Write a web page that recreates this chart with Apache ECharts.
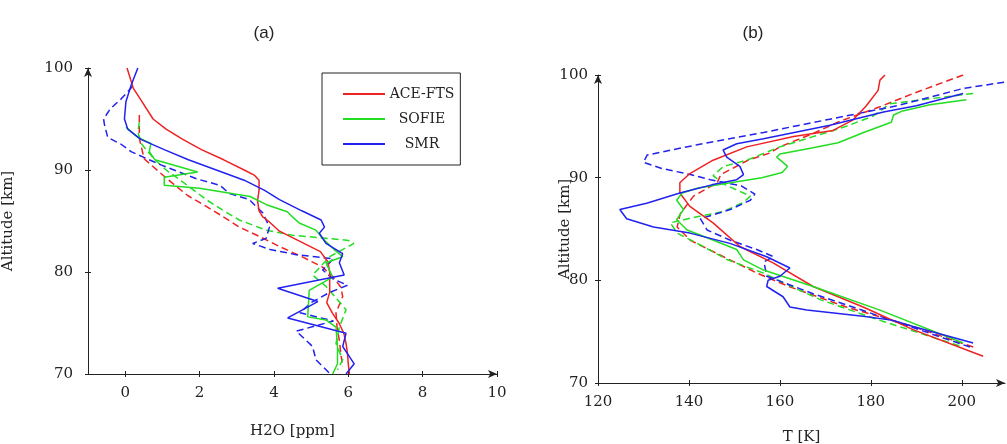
<!DOCTYPE html>
<html>
<head>
<meta charset="utf-8">
<script src="https://cdn.jsdelivr.net/npm/echarts@6/dist/echarts.min.js"></script>
<style>html,body{margin:0;padding:0;background:#fff}#c{width:1007px;height:444px}</style>
</head>
<body>
<div id="c"></div>
<script>
// ---------- Panel (a): H2O [ppm] vs altitude [km] ----------
const aAceAlt  = [100, 98, 97, 95, 94, 93, 92, 91, 90, 89.5, 89, 88, 87, 86, 85.4, 85, 84, 83, 82, 81, 80, 79, 78, 77, 76, 75, 74, 73, 72, 71, 70];
const aAceH2O  = [0.05, 0.22, 0.4, 0.75, 1.1, 1.55, 2.05, 2.65, 3.2, 3.47, 3.6, 3.6, 3.56, 3.6, 3.7, 3.85, 4.15, 4.7, 5.25, 5.45, 5.5, 5.5, 5.5, 5.42, 5.57, 5.75, 5.88, 5.94, 5.98, 6.0, 6.03];
const aSofAlt  = [94.2, 93.2, 92.6, 91.8, 91, 89.8, 89.3, 88.5, 88.2, 87.4, 86.6, 85.9, 85.4, 84.8, 84.1, 83.1, 82.2, 81.5, 80.9, 79.5, 78.2, 75.6, 75.3, 74.6, 72.7, 71, 70];
const aSofH2O  = [0.02, 0.34, 0.69, 0.65, 0.8, 1.95, 1.05, 1.05, 2.0, 3.36, 3.8, 4.36, 4.5, 4.68, 5.13, 5.36, 5.62, 5.85, 5.4, 5.58, 4.95, 4.91, 5.4, 5.67, 5.71, 5.71, 5.58];
const aSmrAlt  = [100, 98.3, 96.7, 95, 94, 93, 92, 91, 90, 89, 88, 87.1, 86, 85.1, 84.4, 83.8, 82.8, 82, 81.8, 80.9, 79.7, 78.4, 77.1, 75.5, 74, 72.7, 71, 70];
const aSmrH2O  = [0.34, 0.16, 0.02, -0.02, 0.07, 0.42, 1.05, 1.7, 2.45, 3.2, 3.75, 4.15, 4.75, 5.27, 5.36, 5.22, 5.4, 5.76, 5.85, 5.76, 5.89, 4.1, 5.18, 4.37, 5.94, 5.85, 6.16, 5.94];
const aAceDAlt = [95.4, 93.1, 91.1, 89.1, 87.5, 86.5, 85.5, 84.4, 83.5, 82.5, 81.5, 80.5, 79.5, 78.5, 77.6, 76, 74.5, 73.3, 72, 70.7];
const aAceDH2O = [0.38, 0.38, 0.51, 1.14, 1.68, 2.15, 2.6, 3.07, 3.6, 4.15, 4.75, 5.3, 5.6, 5.8, 5.85, 5.67, 5.7, 5.76, 5.8, 5.85];
const aSofDAlt = [94.7, 93.7, 92.5, 91, 90, 89.1, 88, 87.1, 86, 85.1, 84.1, 83.6, 83.3, 83.1, 82.8, 81.5, 79.7, 78.6, 76.3, 74.6, 73, 71.4, 70.4];
const aSofDH2O = [0.38, 0.34, 0.45, 0.8, 1.1, 1.45, 1.85, 2.18, 2.65, 3.07, 3.79, 4.5, 5.4, 6.0, 6.15, 5.5, 5.04, 5.4, 5.94, 5.76, 5.67, 5.85, 5.71];
const aSmrDAlt = [98.2, 97, 96, 95, 94.5, 93.2, 92.5, 91.8, 90.5, 89.1, 88.5, 87.7, 87.1, 86.5, 85.8, 84.4, 83.3, 82.8, 82.2, 81.7, 81.3, 80.2, 79.3, 78.7, 78, 77, 76, 75.2, 74.2, 72.7, 71.4, 70.1];
const aSmrDH2O = [0.2, -0.1, -0.4, -0.58, -0.56, -0.47, -0.1, 0.16, 0.96, 1.95, 2.55, 2.8, 3.34, 3.5, 3.7, 3.88, 3.79, 3.43, 3.9, 4.6, 5.6, 5.31, 5.6, 5.98, 5.5, 5.0, 4.7, 5.6, 4.6, 5.04, 5.13, 5.49];

// ---------- Panel (b): T [K] vs altitude [km] ----------
const bAceAlt  = [100, 99.5, 98.5, 97, 95.6, 94.6, 94, 93, 91.7, 90.4, 89.5, 88.5, 87.2, 85.6, 83.3, 81.7, 79.4, 77.4, 75.2, 72.6];
const bAceT    = [183.1, 182, 181.6, 179, 176, 171.7, 163, 152.7, 145.3, 140.2, 138, 138, 140.2, 145.3, 151.2, 158.5, 167.3, 178.3, 189.3, 204.7];
const bSofAlt  = [97.6, 97.1, 96.5, 96.1, 95.4, 94.4, 93.4, 92.9, 92.3, 92.0, 91.1, 90.5, 90.0, 89.6, 89.0, 88.5, 87.8, 86.9, 85.9, 84.9, 83.9, 83.0, 82.0, 81.0, 79.4, 77.1, 73.9];
const bSofT    = [201, 193, 187, 185, 184.5, 178.4, 172.8, 167, 160, 159.3, 161.7, 160.5, 156, 150.5, 142, 138.5, 137.3, 138.8, 137.3, 139.6, 145.4, 150.5, 152, 156.4, 167.3, 182, 200.3];
const bSmrAlt  = [98.2, 97, 96.4, 95.1, 93.8, 93.3, 92.7, 92.0, 91.1, 90.3, 89.8, 89.3, 88.5, 87.5, 86.9, 86.0, 85.2, 84.6, 83.6, 82.3, 81.2, 80.4, 80.0, 79.4, 78.4, 77.4, 77.1, 76.5, 76.1, 75.5, 73.9];
const bSmrT    = [200.3, 190, 182.8, 171, 156.4, 150.5, 147.5, 148.3, 151.2, 152, 150.5, 145, 138, 130.7, 124.8, 126.3, 132.2, 140.2, 149, 157.1, 162.2, 160, 157.4, 157.1, 160.7, 162.2, 165.9, 178.3, 184.9, 189.3, 202.5];
const bAceDAlt = [100, 98.2, 96.9, 95.5, 94.3, 93.0, 92.4, 91.7, 90.3, 89.5, 88.2, 86.5, 85.2, 83.9, 82.3, 80.7, 79.4, 77.4, 75.5, 73.5];
const bAceDT   = [200.3, 189.3, 182, 173.2, 167.3, 160, 157.8, 153, 147, 146.2, 141, 138.1, 137.4, 140.3, 147.6, 155, 162, 174.6, 189.3, 202.5];
const bSofDAlt = [98.2, 97.2, 96.0, 95.0, 94.0, 93.0, 91.7, 91.1, 90.2, 89.3, 88.8, 88.2, 87.6, 86.7, 86.2, 85.6, 84.6, 83.6, 82.0, 80.7, 79.1, 78.1, 76.1, 73.5];
const bSofDT   = [202.5, 184.2, 180.5, 174.6, 167.3, 160, 152.7, 147.6, 145.3, 148, 150.5, 153.5, 152, 147.6, 141.8, 135.9, 137.4, 141.8, 148.5, 156.4, 164, 169, 182, 200.3];
const bSmrDAlt = [99.3, 98.7, 97, 95.7, 94.4, 93.2, 92.5, 92.2, 91.5, 90.9, 90.3, 89.8, 89.2, 88.4, 87.8, 86.9, 86.0, 84.9, 83.9, 83.0, 82.3, 81.8, 80.4, 78.7, 76.5, 73.5];
const bSmrDT   = [209.3, 200.4, 185.7, 171, 156.4, 141.8, 134, 130.8, 130, 134, 140.3, 144.7, 151.5, 154.5, 153.5, 149.1, 142.5, 144, 149.1, 154.9, 158.6, 156.5, 157.1, 167.3, 182, 201.8];

// ---------- ticks / labels ----------
const altTicks = [70, 80, 90, 100];
const aXTicks = [0, 2, 4, 6, 8, 10];
const bXTicks = [120, 140, 160, 180, 200];
const names = ['ACE-FTS', 'SOFIE', 'SMR'];
const colors = ['#ee2222', '#22dd22', '#2222ee'];

const zip = (xs, ys) => xs.map((v, i) => [v, ys[i]]);

const serif = 'DejaVu Serif';
const axisCol = '#222';

function mainX(grid, min, max, ticks, name, nameGap) {
  return {
    type: 'value', gridIndex: grid, min, max, position: 'bottom',
    name, nameLocation: 'middle', nameGap, nameMoveOverlap: false,
    nameTextStyle: { fontFamily: serif, fontSize: 15, color: '#222' },
    axisLine: { show: true, onZero: false, lineStyle: { color: axisCol, width: 1 }, symbol: ['none', 'arrow'], symbolSize: [6, 9] },
    axisTick: { show: true, inside: false, length: 3, customValues: ticks, lineStyle: { color: axisCol } },
    axisLabel: { customValues: ticks, margin: 12, fontFamily: serif, fontSize: 15, color: '#222' },
    splitLine: { show: false }
  };
}
function helperX(grid, min, max, ticks) {
  return {
    type: 'value', gridIndex: grid, min, max, position: 'bottom',
    axisLine: { show: false, onZero: false },
    axisTick: { show: true, inside: true, length: 3, customValues: ticks, lineStyle: { color: axisCol } },
    axisLabel: { show: false, customValues: ticks },
    splitLine: { show: false }
  };
}
function mainY(grid, name, nameGap, margin) {
  return {
    type: 'value', gridIndex: grid, min: 70, max: 100, interval: 10, position: 'left',
    name, nameLocation: 'middle', nameGap, nameMoveOverlap: false,
    nameTextStyle: { fontFamily: serif, fontSize: 15, color: '#222' },
    axisLine: { show: true, onZero: false, lineStyle: { color: axisCol, width: 1 }, symbol: ['none', 'arrow'], symbolSize: [6, 9] },
    axisTick: { show: true, inside: false, length: 3, customValues: altTicks, lineStyle: { color: axisCol } },
    axisLabel: { customValues: altTicks, margin, fontFamily: serif, fontSize: 15, color: '#222' },
    splitLine: { show: false }
  };
}
function helperY(grid) {
  return {
    type: 'value', gridIndex: grid, min: 70, max: 100, interval: 10, position: 'left',
    axisLine: { show: false, onZero: false },
    axisTick: { show: true, inside: true, length: 3, customValues: altTicks, lineStyle: { color: axisCol } },
    axisLabel: { show: false, customValues: altTicks },
    splitLine: { show: false }
  };
}

function line(name, data, color, xi, yi, dashed) {
  return {
    type: 'line', name, data, xAxisIndex: xi, yAxisIndex: yi,
    symbol: 'none', smooth: false, animation: false, silent: true,
    lineStyle: { color, width: 1.5, type: dashed ? [7, 4] : 'solid' },
    itemStyle: { color }
  };
}

const chart = echarts.init(document.getElementById('c'), null, { renderer: 'canvas' });
chart.setOption({
  backgroundColor: '#fff',
  animation: false,
  title: [
    { text: '(a)', left: 259, top: 20, textAlign: 'center', textStyle: { fontFamily: 'Liberation Sans', fontSize: 17, fontWeight: 'normal', color: '#222' } },
    { text: '(b)', left: 748, top: 20, textAlign: 'center', textStyle: { fontFamily: 'Liberation Sans', fontSize: 17, fontWeight: 'normal', color: '#222' } }
  ],
  legend: {
    data: names, orient: 'vertical', left: 322, top: 73,
    width: 135, padding: [14, 6, 14, 20], itemGap: 11, itemWidth: 42, itemHeight: 14,
    borderColor: '#222', borderWidth: 1, backgroundColor: '#fff',
    itemStyle: { opacity: 0 },
    formatter: n => '{c|' + n + '}',
    textStyle: { fontFamily: serif, fontSize: 14, color: '#222',
      rich: { c: { width: 64, align: 'center', fontFamily: serif, fontSize: 14, color: '#222' } } },
    selectedMode: false
  },
  grid: [
    { left: 88, top: 68, width: 409, height: 306, outerBoundsMode: 'none' },
    { left: 598, top: 75, width: 407, height: 308, outerBoundsMode: 'none' }
  ],
  xAxis: [
    mainX(0, -1, 10, aXTicks, 'H2O [ppm]', 50),
    helperX(0, -1, 10, aXTicks),
    mainX(1, 120, 209.5, bXTicks, 'T [K]', 47),
    helperX(1, 120, 209.5, bXTicks)
  ],
  yAxis: [
    mainY(0, 'Altitude [km]', 72, 15),
    helperY(0),
    mainY(1, 'Altitude [km]', 25, 10),
    helperY(1)
  ],
  series: [
    line('ACE-FTS-d', zip(aAceDH2O, aAceDAlt), colors[0], 0, 0, true),
    line('SOFIE-d', zip(aSofDH2O, aSofDAlt), colors[1], 0, 0, true),
    line('SMR-d', zip(aSmrDH2O, aSmrDAlt), colors[2], 0, 0, true),
    line(names[0], zip(aAceH2O, aAceAlt), colors[0], 0, 0, false),
    line(names[1], zip(aSofH2O, aSofAlt), colors[1], 0, 0, false),
    line(names[2], zip(aSmrH2O, aSmrAlt), colors[2], 0, 0, false),
    line('ACE-FTS-db', zip(bAceDT, bAceDAlt), colors[0], 2, 2, true),
    line('SOFIE-db', zip(bSofDT, bSofDAlt), colors[1], 2, 2, true),
    line('SMR-db', zip(bSmrDT, bSmrDAlt), colors[2], 2, 2, true),
    line('ACE-FTS-b', zip(bAceT, bAceAlt), colors[0], 2, 2, false),
    line('SOFIE-b', zip(bSofT, bSofAlt), colors[1], 2, 2, false),
    line('SMR-b', zip(bSmrT, bSmrAlt), colors[2], 2, 2, false)
  ]
});
</script>
</body>
</html>
